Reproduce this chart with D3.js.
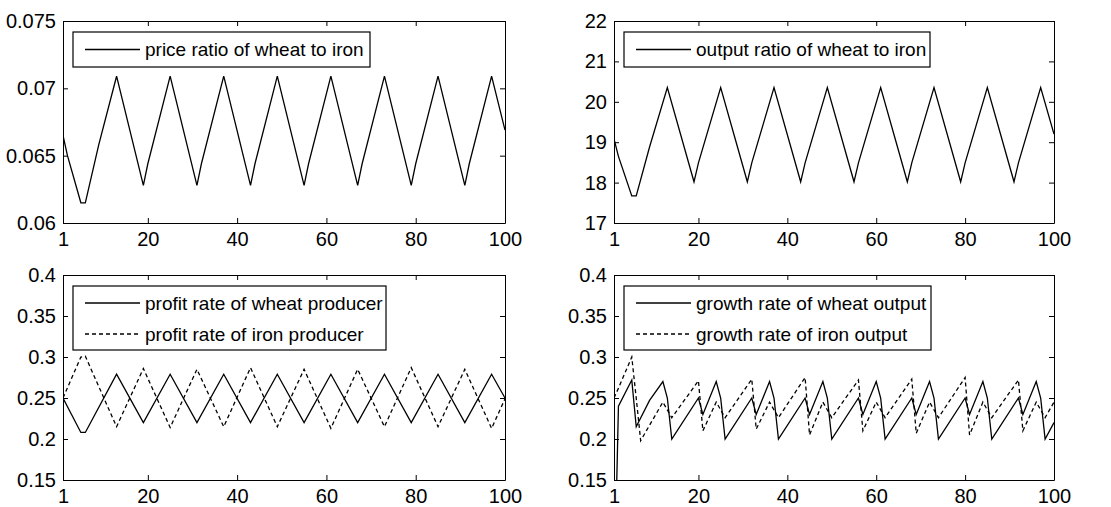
<!DOCTYPE html>
<html><head><meta charset="utf-8">
<script src="https://cdn.jsdelivr.net/npm/d3@7"></script>
<style>
html,body{margin:0;padding:0;background:#fff;}
text{font-family:"Liberation Sans",Arial,sans-serif;fill:#000;}
</style></head>
<body><svg id="c" width="1111" height="507"></svg>
<script>
// ---------- data ----------
const xTicks = [1, 20, 40, 60, 80, 100];
const xTickLabels = ["1", "20", "40", "60", "80", "100"];

const priceTicks = [0.06, 0.065, 0.07, 0.075];
const priceTickLabels = ["0.06", "0.065", "0.07", "0.075"];
const outputTicks = [17, 18, 19, 20, 21, 22];
const outputTickLabels = ["17", "18", "19", "20", "21", "22"];
const rateTicks = [0.15, 0.2, 0.25, 0.3, 0.35, 0.4];
const rateTickLabels = ["0.15", "0.2", "0.25", "0.3", "0.35", "0.4"];

// price ratio of wheat to iron (vertices)
const priceX = [1, 2, 5, 6, 9, 13, 19, 20, 25, 31, 32, 37, 43, 44, 49, 55, 56, 61, 67, 68, 73, 79, 80, 85, 91, 92, 97, 100];
const priceY = [0.0665, 0.0650, 0.0615, 0.0615, 0.0658, 0.0709, 0.0628, 0.0644, 0.0709, 0.0628, 0.0644, 0.0709, 0.0628, 0.0644, 0.0709, 0.0628, 0.0644, 0.0709, 0.0628, 0.0644, 0.0709, 0.0628, 0.0644, 0.0709, 0.0628, 0.0644, 0.0709, 0.0669];

// output ratio of wheat to iron (vertices)
const outputX = [1, 2, 5, 6, 9, 13, 19, 20, 25, 31, 32, 37, 43, 44, 49, 55, 56, 61, 67, 68, 73, 79, 80, 85, 91, 92, 97, 100];
const outputY = [19.08, 18.65, 17.67, 17.67, 18.88, 20.35, 18.02, 18.49, 20.35, 18.02, 18.49, 20.35, 18.02, 18.49, 20.35, 18.02, 18.49, 20.35, 18.02, 18.49, 20.35, 18.02, 18.49, 20.35, 18.02, 18.49, 20.35, 19.20];

// profit rates (vertices)
const profitWheatX = [1, 5, 6, 13, 19, 25, 31, 37, 43, 49, 55, 61, 67, 73, 79, 85, 91, 97, 100];
const profitWheatY = [0.25, 0.208, 0.208, 0.279, 0.22, 0.279, 0.22, 0.279, 0.22, 0.279, 0.22, 0.279, 0.22, 0.279, 0.22, 0.279, 0.22, 0.279, 0.25];
const profitIronX = [1, 5, 6, 13, 19, 25, 31, 37, 43, 49, 55, 61, 67, 73, 79, 85, 91, 97, 100];
const profitIronY = [0.25, 0.300, 0.301, 0.215, 0.286, 0.214, 0.285, 0.215, 0.287, 0.215, 0.285, 0.213, 0.285, 0.215, 0.287, 0.215, 0.285, 0.213, 0.249];

// growth rates (vertices)
const growthWheatX = [1, 2, 5, 6, 9, 12, 13, 14, 20, 21, 24, 25, 26, 32, 33, 36, 37, 38, 44, 45, 48, 49, 50, 56, 57, 60, 61, 62, 68, 69, 72, 73, 74, 80, 81, 84, 85, 86, 92, 93, 96, 97, 98, 100];
const growthWheatY = [0.0, 0.24, 0.272, 0.215, 0.247, 0.27, 0.25, 0.20, 0.25, 0.23, 0.27, 0.25, 0.20, 0.25, 0.23, 0.27, 0.25, 0.20, 0.25, 0.23, 0.27, 0.25, 0.20, 0.25, 0.23, 0.27, 0.25, 0.20, 0.25, 0.23, 0.27, 0.25, 0.20, 0.25, 0.23, 0.27, 0.25, 0.20, 0.25, 0.23, 0.27, 0.25, 0.20, 0.22];
const growthIronX = [1, 2, 5, 6, 7, 12, 14, 20, 21, 24, 26, 32, 33, 36, 38, 44, 45, 48, 50, 56, 57, 60, 62, 68, 69, 72, 74, 80, 81, 84, 86, 92, 93, 96, 98, 100];
const growthIronY = [0.25, 0.262, 0.30, 0.25, 0.198, 0.245, 0.226, 0.271, 0.21, 0.245, 0.226, 0.273, 0.212, 0.245, 0.226, 0.275, 0.205, 0.245, 0.226, 0.272, 0.21, 0.245, 0.226, 0.273, 0.207, 0.245, 0.226, 0.275, 0.205, 0.245, 0.226, 0.272, 0.21, 0.245, 0.226, 0.245];

// ---------- layout ----------
const svg = d3.select("#c");
svg.append("rect").attr("width", 1111).attr("height", 507).attr("fill", "#fff");
const FS = 19;   // legend font
const TFS = 20;  // tick font

const panels = [
  { l: 63, t: 21, r: 505, b: 223, dom: [0.06, 0.075], ticks: priceTicks, labels: priceTickLabels,
    series: [{ x: priceX, y: priceY, dash: null, name: "price ratio of wheat to iron" }],
    leg: { x: 73, y: 32, w: 297, h: 35 } },
  { l: 614, t: 21, r: 1054, b: 223, dom: [17, 22], ticks: outputTicks, labels: outputTickLabels,
    series: [{ x: outputX, y: outputY, dash: null, name: "output ratio of wheat to iron" }],
    leg: { x: 624, y: 32, w: 306, h: 35 } },
  { l: 63, t: 275, r: 505, b: 480, dom: [0.15, 0.4], ticks: rateTicks, labels: rateTickLabels,
    series: [{ x: profitWheatX, y: profitWheatY, dash: null, name: "profit rate of wheat producer" },
             { x: profitIronX, y: profitIronY, dash: "4,3", name: "profit rate of iron producer" }],
    leg: { x: 73, y: 286, w: 313, h: 64 } },
  { l: 614, t: 275, r: 1054, b: 480, dom: [0.15, 0.4], ticks: rateTicks, labels: rateTickLabels,
    series: [{ x: growthWheatX, y: growthWheatY, dash: null, name: "growth rate of wheat output" },
             { x: growthIronX, y: growthIronY, dash: "4,3", name: "growth rate of iron output" }],
    leg: { x: 624, y: 286, w: 307, h: 64 } }
];

panels.forEach((p, pi) => {
  const x = d3.scaleLinear().domain([1, 100]).range([p.l, p.r]);
  const y = d3.scaleLinear().domain(p.dom).range([p.b, p.t]);
  const g = svg.append("g");

  const cid = "clip" + pi;
  svg.append("clipPath").attr("id", cid).append("rect")
    .attr("x", p.l).attr("y", p.t).attr("width", p.r - p.l).attr("height", p.b - p.t);

  p.series.forEach(s => {
    const pts = s.x.map((xv, i) => [xv, s.y[i]]);
    g.append("path")
      .attr("clip-path", `url(#${cid})`)
      .attr("d", d3.line().x(d => x(d[0])).y(d => y(d[1]))(pts))
      .attr("fill", "none").attr("stroke", "#000").attr("stroke-width", 1.3)
      .attr("stroke-dasharray", s.dash);
  });

  const ax = (gen, tr) => {
    const a = g.append("g").attr("transform", tr).call(gen);
    a.select(".domain").attr("stroke", "#000").attr("stroke-width", 1);
    a.selectAll(".tick line").attr("stroke", "#000").attr("stroke-width", 1);
    a.selectAll("text").attr("font-size", TFS).attr("font-family", '"Liberation Sans",Arial,sans-serif').attr("fill", "#000");
    return a;
  };
  ax(d3.axisBottom(x).tickValues(xTicks).tickFormat((d, i) => xTickLabels[i]).tickSize(-5).tickSizeOuter(0).tickPadding(9),
     `translate(0,${p.b})`);
  ax(d3.axisTop(x).tickValues(xTicks).tickFormat("").tickSize(-5).tickSizeOuter(0),
     `translate(0,${p.t})`);
  ax(d3.axisLeft(y).tickValues(p.ticks).tickFormat((d, i) => p.labels[i]).tickSize(-5).tickSizeOuter(0).tickPadding(7),
     `translate(${p.l},0)`);
  ax(d3.axisRight(y).tickValues(p.ticks).tickFormat("").tickSize(-5).tickSizeOuter(0),
     `translate(${p.r},0)`);

  const L = p.leg;
  g.append("rect").attr("x", L.x).attr("y", L.y).attr("width", L.w).attr("height", L.h)
    .attr("fill", "#fff").attr("stroke", "#000").attr("stroke-width", 1.2);
  const n = p.series.length;
  p.series.forEach((s, i) => {
    const cy = n === 1 ? L.y + L.h / 2 : L.y + 17 + i * 31;
    g.append("line").attr("x1", L.x + 12).attr("x2", L.x + 67).attr("y1", cy).attr("y2", cy)
      .attr("stroke", "#000").attr("stroke-width", 1.3).attr("stroke-dasharray", s.dash);
    g.append("text").attr("x", L.x + 72).attr("y", cy).attr("dy", "0.35em")
      .attr("font-size", FS).text(s.name);
  });
});
</script></body></html>
